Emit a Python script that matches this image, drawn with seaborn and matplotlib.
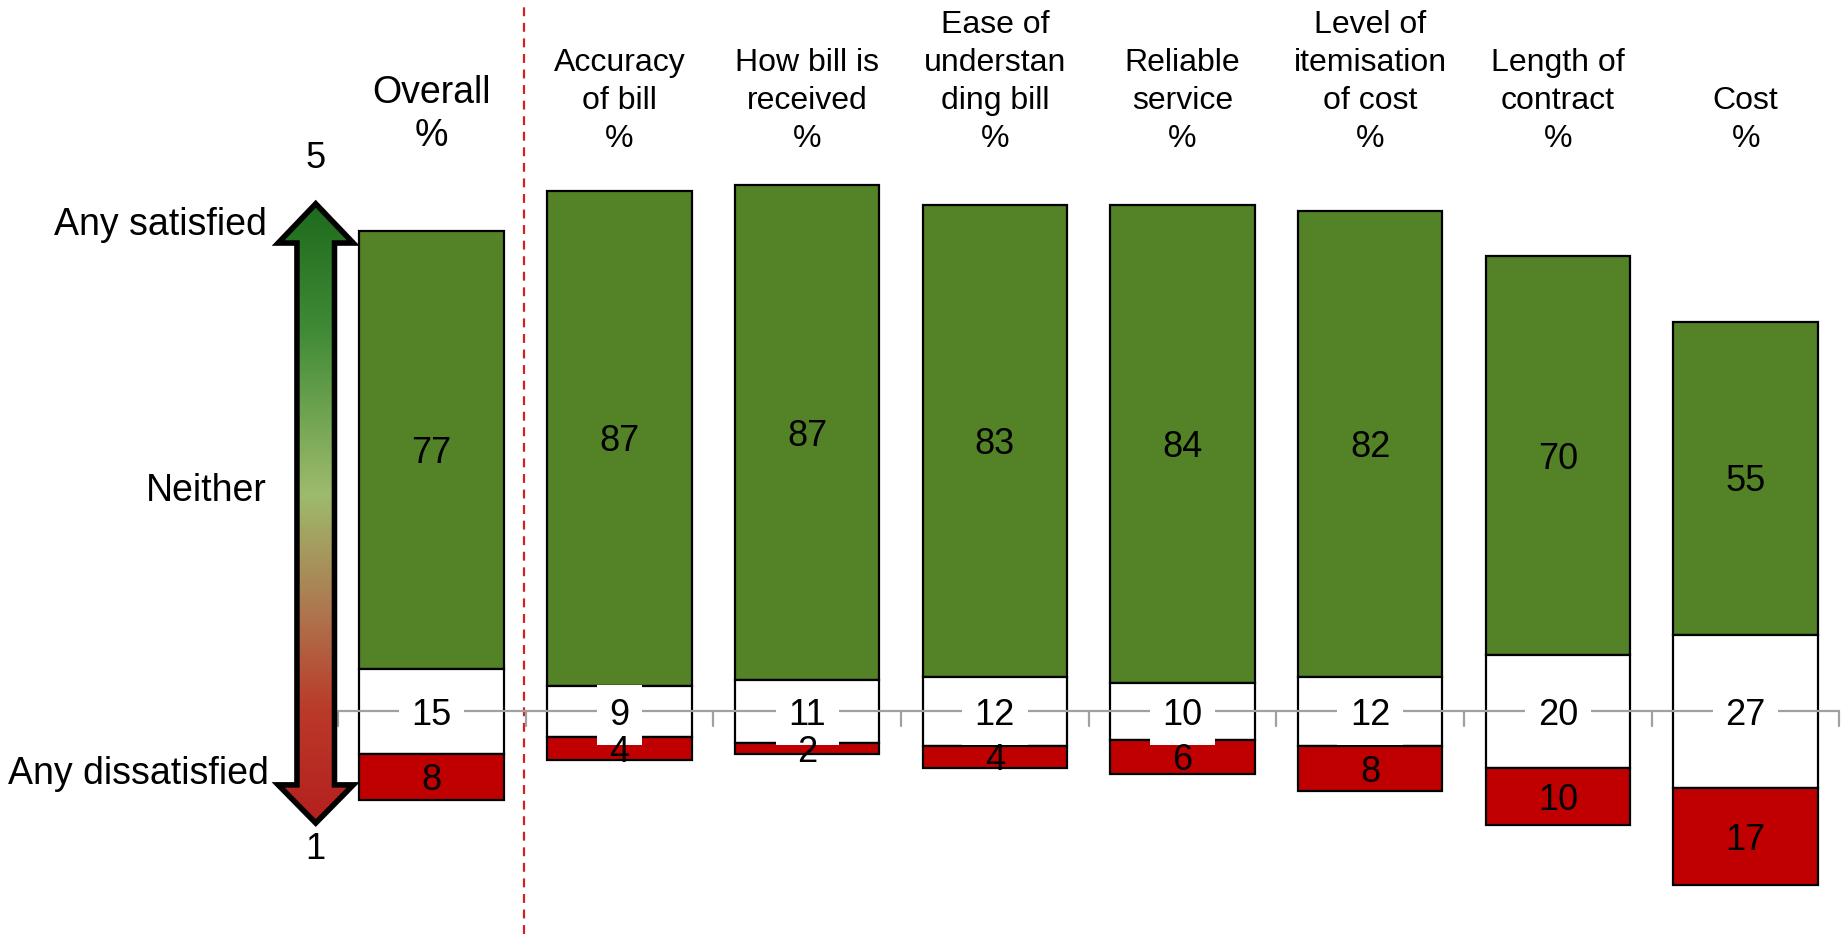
import numpy as np
import matplotlib
matplotlib.use("Agg")
import matplotlib.pyplot as plt
import seaborn as sns
from matplotlib.colors import LinearSegmentedColormap
from matplotlib.patches import Polygon

# ---- data ----
categories = ["Overall\n%", "Accuracy\nof bill\n%", "How bill is\nreceived\n%",
              "Ease of\nunderstan\nding bill\n%", "Reliable\nservice\n%",
              "Level of\nitemisation\nof cost\n%", "Length of\ncontract\n%", "Cost\n%"]
satisfied = [77, 87, 87, 83, 84, 82, 70, 55]
neither = [15, 9, 11, 12, 10, 12, 20, 27]
dissatisfied = [8, 4, 2, 4, 6, 8, 10, 17]
scale_labels = ["Any satisfied", "Neither", "Any dissatisfied"]
scale_ends = ["5", "1"]

GREEN = "#548226"
RED = "#C00000"
GREY = "#A0A0A0"

sns.set_style("white")
plt.rcParams["font.family"] = ["Liberation Sans", "DejaVu Sans"]
plt.rcParams["text.color"] = "black"

sat = np.array(satisfied, dtype=float)
nei = np.array(neither, dtype=float)
dis = np.array(dissatisfied, dtype=float)

fig = plt.figure(figsize=(18.47, 9.34), dpi=100)
ax = fig.add_axes([0, 0, 1, 1])

bar_kw = dict(saturation=1, edgecolor="black", linewidth=1.6, width=0.77,
              errorbar=None, ax=ax, order=categories, zorder=2)
sns.barplot(x=categories, y=sat, bottom=nei / 2, color=GREEN, **bar_kw)
sns.barplot(x=categories, y=nei, bottom=-nei / 2, color="white", **bar_kw)
sns.barplot(x=categories, y=dis, bottom=-nei / 2 - dis, color=RED, **bar_kw)

pos = np.arange(len(categories))

# zero axis with boundary ticks
ax.plot([-0.5, len(categories) - 0.5], [0, 0], color=GREY, lw=1.6, zorder=3)
for b in np.arange(-0.5, len(categories), 1.0):
    ax.plot([b, b], [0, -2.6], color=GREY, lw=1.6, zorder=3)

# value labels (nudged a little down like the original)
dy = -0.65
for i in pos:
    ax.text(i, nei[i] / 2 + sat[i] / 2 + dy, f"{satisfied[i]}", ha="center", va="center",
            fontsize=26, color="black", zorder=5)
    ax.text(i, dy, f"{neither[i]}", ha="center", va="center", fontsize=26, color="black",
            zorder=5, bbox=dict(facecolor="white", edgecolor="none", pad=9))
    ax.text(i, -nei[i] / 2 - dis[i] / 2 + dy, f"{dissatisfied[i]}", ha="center",
            va="center", fontsize=26, color="black", zorder=5)

# category headers
for i in pos:
    fs = 27 if i == 0 else 23
    ls = 1.25 if i == 0 else 1.34
    ax.text(i, 98.0, categories[i], ha="center", va="bottom", fontsize=fs,
            linespacing=ls, multialignment="center", color="black")

# dashed separator
ax.axvline(0.49, ymin=0, ymax=0.994, color="#D42020", lw=1.6, ls=(0, (4, 3)), zorder=1)

# gradient double arrow
cx, hs, hh = -0.618, 0.10, 0.20
top_tip, top_base, bot_base, bot_tip = 89.2, 82.3, -12.9, -19.6
verts = [(cx, top_tip), (cx + hh, top_base), (cx + hs, top_base), (cx + hs, bot_base),
         (cx + hh, bot_base), (cx, bot_tip), (cx - hh, bot_base), (cx - hs, bot_base),
         (cx - hs, top_base), (cx - hh, top_base)]
cmap = LinearSegmentedColormap.from_list(
    "arrow", [(0.0, "#1E6B1E"), (0.2, "#3F8A35"), (0.47, "#9DBB6C"),
              (0.65, "#AD7A50"), (0.82, "#BA3A28"), (1.0, "#B51F1F")])
grad = np.linspace(0, 1, 256).reshape(-1, 1)
img = ax.imshow(grad, cmap=cmap, aspect="auto", interpolation="bilinear",
                extent=(cx - hh, cx + hh, bot_tip, top_tip), origin="upper", zorder=2)
clip = Polygon(verts, closed=True, transform=ax.transData, facecolor="none")
img.set_clip_path(clip)
ax.add_patch(Polygon(verts, closed=True, facecolor="none", edgecolor="black",
                     lw=4, joinstyle="miter", zorder=3))

ax.text(cx, 97.1, scale_ends[0], ha="center", va="center", fontsize=26, color="black")
ax.text(cx, -24.2, scale_ends[1], ha="center", va="center", fontsize=26, color="black")
ax.text(-0.88, 85.5, scale_labels[0], ha="right", va="center", fontsize=27, color="black")
ax.text(-0.88, 38.7, scale_labels[1], ha="right", va="center", fontsize=27, color="black")
ax.text(-0.87, -11.0, scale_labels[2], ha="right", va="center", fontsize=27, color="black")

ax.set_xlim(-2.30, 7.54)
ax.set_ylim(-39.1, 125)
ax.set_axis_off()

fig.savefig("out.png", dpi=100)
